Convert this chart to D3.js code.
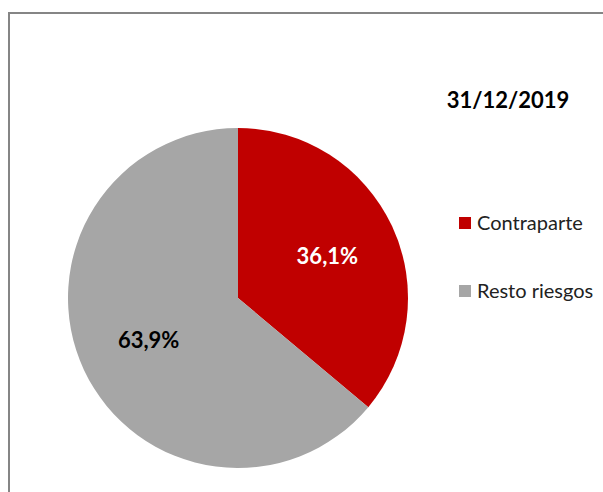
<!DOCTYPE html>
<html><head><meta charset="utf-8">
<script src="https://cdn.jsdelivr.net/npm/d3@7"></script>
<style>body{margin:0;background:#fff}svg{display:block}</style>
</head><body>
<script>
const categories = ["Contraparte", "Resto riesgos"];
const values = [36.1, 63.9];
const labels = ["36,1%", "63,9%"];
const title = "31/12/2019";
const colors = ["#C00000", "#A6A6A6"];
const labelColors = ["#ffffff", "#000000"];

const W = 603, H = 492;
const svg = d3.select("body").append("svg").attr("width", W).attr("height", H);
const font = "Lato, 'Open Sans', sans-serif";

// frame
svg.append("rect").attr("x", 9).attr("y", 13).attr("width", 700).attr("height", 600)
  .attr("fill", "none").attr("stroke", "#858585").attr("stroke-width", 2);

const cx = 238, cy = 298, r = 170;
const pie = d3.pie().sort(null).value(d => d)(values);
const arc = d3.arc().innerRadius(0).outerRadius(r);
const g = svg.append("g").attr("transform", `translate(${cx},${cy})`);
g.selectAll("path").data(pie).join("path").attr("d", arc).attr("fill", (d,i) => colors[i]);

const labelArc = d3.arc().innerRadius(r*0.58).outerRadius(r*0.58);
g.selectAll("text").data(pie).join("text")
  .attr("transform", d => `translate(${labelArc.centroid(d)})`)
  .attr("text-anchor", "middle").attr("dy", "0.36em")
  .attr("font-family", font).attr("font-weight", "bold").attr("font-size", 22)
  .attr("fill", (d,i) => labelColors[i]).text((d,i) => labels[i]);

svg.append("text").attr("x", 508).attr("y", 108).attr("text-anchor", "middle")
  .attr("font-family", font).attr("font-weight", "bold").attr("font-size", 22)
  .attr("fill", "#000").text(title);

const leg = svg.append("g");
categories.forEach((c, i) => {
  const y = 217 + i * 68;
  leg.append("rect").attr("x", 459).attr("y", y).attr("width", 12).attr("height", 12).attr("fill", colors[i]);
  leg.append("text").attr("x", 477).attr("y", y + 13).attr("font-family", font)
    .attr("font-size", 20).attr("fill", "#222").text(c);
});
</script>
</body></html>
